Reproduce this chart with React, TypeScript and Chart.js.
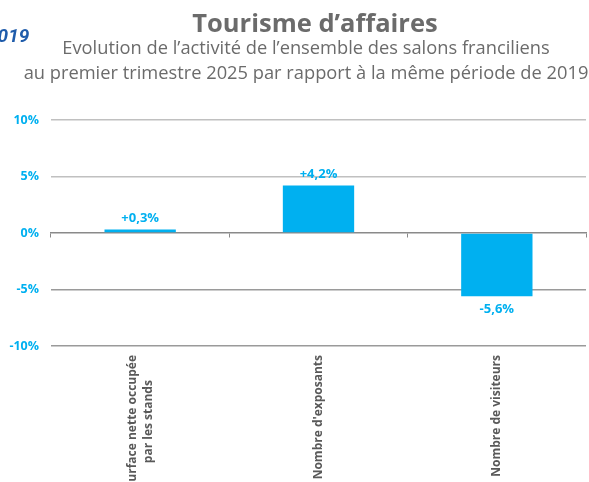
import React, { useEffect, useRef } from "react";
import { Chart, registerables } from "chart.js";

Chart.register(...registerables);

const categories: string[][] = [
  ["Surface nette occupée", "par les stands"],
  ["Nombre d'exposants"],
  ["Nombre de visiteurs"],
];
const values: number[] = [0.3, 4.2, -5.6];
const yTicks: number[] = [-10, -5, 0, 5, 10];

const BLUE = "#00b0f0";
const FONT = "'Open Sans', Roboto, sans-serif";

const fmt = (v: number) => `${v > 0 ? "+" : ""}${v.toFixed(1).replace(".", ",")}%`;

const customDraw = {
  id: "customDraw",
  afterDatasetsDraw(chart: any) {
    const ctx = chart.ctx as CanvasRenderingContext2D;
    const meta = chart.getDatasetMeta(0);
    ctx.save();
    ctx.font = `bold 13px ${FONT}`;
    ctx.fillStyle = BLUE;
    ctx.textAlign = "center";
    ctx.textBaseline = "middle";
    meta.data.forEach((bar: any, i: number) => {
      const v = values[i];
      const y = v >= 0 ? bar.y - 11 : bar.y + 13;
      ctx.fillText(fmt(v), bar.x, y);
    });
    ctx.restore();

    // category labels, rotated, centered lines (Excel style)
    const xs = chart.scales.x;
    const top = chart.chartArea.bottom + 9;
    ctx.save();
    ctx.font = `bold 12px ${FONT}`;
    ctx.fillStyle = "#595959";
    ctx.textBaseline = "middle";
    ctx.textAlign = "center";
    const lh = 16;
    categories.forEach((lines, i) => {
      const x = xs.getPixelForValue(i);
      const w = Math.max(...lines.map((l) => ctx.measureText(l).width));
      ctx.save();
      ctx.translate(x, top);
      ctx.rotate(-Math.PI / 2);
      lines.forEach((l, j) => {
        const off = (j - (lines.length - 1) / 2) * lh;
        ctx.fillText(l, -w / 2, off);
      });
      ctx.restore();
    });
    ctx.restore();
  },
};

export default function App() {
  const ref = useRef<HTMLCanvasElement | null>(null);
  useEffect(() => {
    if (!ref.current) return;
    const chart = new Chart(ref.current, {
      type: "bar",
      data: {
        labels: categories.map((c) => c.join(" ")),
        datasets: [
          {
            data: values,
            backgroundColor: BLUE,
            borderWidth: 0,
            barPercentage: 0.4,
            categoryPercentage: 1,
          },
        ],
      },
      options: {
        animation: false,
        responsive: false,
        maintainAspectRatio: false,
        layout: { padding: { top: 120, right: 3, left: 0, bottom: 0 } },
        plugins: {
          legend: { display: false },
          tooltip: { enabled: false },
          title: { display: false },
        },
        scales: {
          x: {
            type: "category",
            offset: true,
            grid: { display: false },
            border: { display: false },
            ticks: { display: false },
            afterFit: (s: any) => {
              s.height = 136;
            },
          },
          x2: {
            type: "category",
            labels: categories.map((c) => c.join(" ")),
            position: { y: 0 } as any,
            offset: true,
            grid: {
              offset: true,
              drawOnChartArea: false,
              drawTicks: true,
              tickLength: 4,
              color: "#8a8a8a",
              lineWidth: 1,
            },
            border: { display: true, color: "#8a8a8a", width: 1.5 },
            ticks: { display: false },
          },
          y: {
            type: "linear",
            min: -10,
            max: 10,
            afterBuildTicks: (s: any) => {
              s.ticks = yTicks.map((v) => ({ value: v }));
            },
            grid: {
              drawTicks: false,
              color: (c: any) =>
                c.tick && c.tick.value === 0
                  ? "rgba(0,0,0,0)"
                  : c.tick && c.tick.value > 0
                  ? "#c0c0c0"
                  : "#9a9a9a",
              lineWidth: 1.5,
            },
            border: { display: false },
            ticks: {
              padding: 12,
              color: BLUE,
              font: { family: FONT, size: 12.5, weight: "bold" },
              callback: (v: any) => `${v}%`,
            },
            afterFit: (s: any) => {
              s.width = 51;
            },
          },
        },
      },
      plugins: [customDraw],
    });
    return () => chart.destroy();
  }, []);

  return (
    <div
      style={{
        position: "absolute",
        left: 0,
        top: 0,
        width: 589,
        height: 482,
        overflow: "hidden",
        background: "#fff",
        fontFamily: FONT,
      }}
    >
      <canvas ref={ref} width={589} height={482} style={{ position: "absolute", left: 0, top: 0 }} />
      <div
        style={{
          position: "absolute",
          left: -13,
          top: 25,
          fontSize: 19,
          fontWeight: 700,
          fontStyle: "italic",
          color: "#1f5cab",
          lineHeight: "22px",
          fontFamily: "Roboto, sans-serif",
        }}
      >
        2019
      </div>
      <div
        style={{
          position: "absolute",
          left: 40,
          width: 550,
          top: 6,
          textAlign: "center",
          fontSize: 25.5,
          fontWeight: 700,
          color: "#6b6b6b",
          lineHeight: "32px",
        }}
      >
        Tourisme d’affaires
      </div>
      <div
        style={{
          position: "absolute",
          left: 0,
          width: 612,
          top: 34,
          textAlign: "center",
          fontSize: 18.3,
          color: "#6b6b6b",
          lineHeight: "25px",
        }}
      >
        Evolution de l’activité de l’ensemble des salons franciliens
        <br />
        au premier trimestre 2025 par rapport à la même période de 2019
      </div>
    </div>
  );
}
